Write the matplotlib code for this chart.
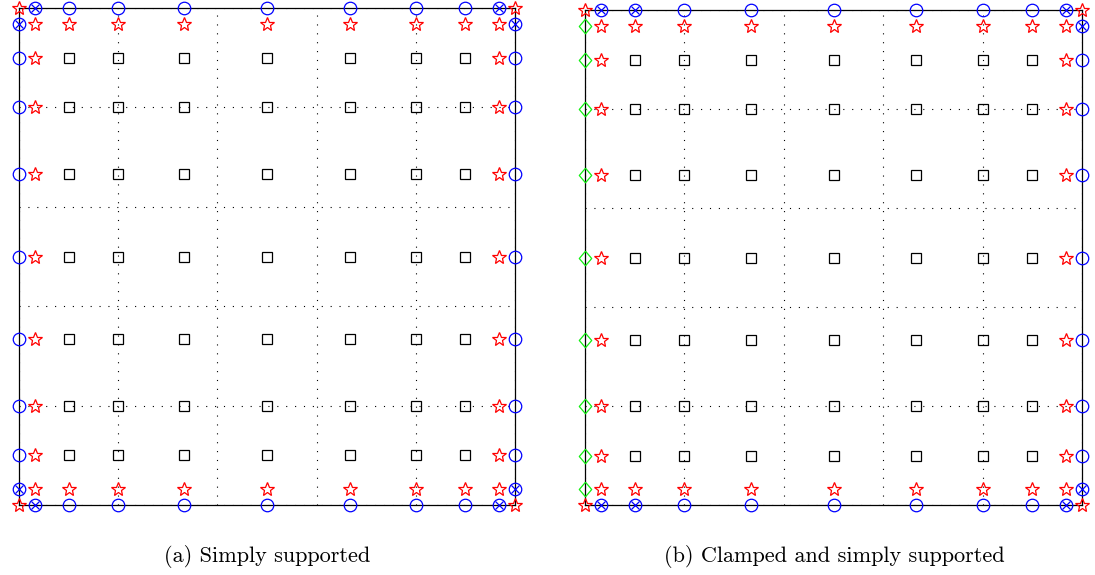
import matplotlib
matplotlib.use('Agg')
from matplotlib import pyplot as plt

# node coordinates along each side of the plate (same in x and y)
nodes = [0.0, 0.033, 0.1, 0.2, 0.333, 0.5, 0.667, 0.8, 0.9, 0.967, 1.0]
# element boundaries (dotted mesh)
mesh = [0.0, 0.2, 0.4, 0.6, 0.8, 1.0]

# marker type per node, rows from top (y=1) to bottom (y=0)
# * star, X crossed circle, O circle, s square, D diamond
grid_a = [
	'*XOOOOOOOX*',
	'X*********X',
	'O*sssssss*O',
	'O*sssssss*O',
	'O*sssssss*O',
	'O*sssssss*O',
	'O*sssssss*O',
	'O*sssssss*O',
	'O*sssssss*O',
	'X*********X',
	'*XOOOOOOOX*',
]
grid_b = [
	'*XXOOOOOOX*',
	'D*********X',
	'D*sssssss*O',
	'D*sssssss*O',
	'D*sssssss*O',
	'D*sssssss*O',
	'D*sssssss*O',
	'D*sssssss*O',
	'D*sssssss*O',
	'D*********X',
	'*XXOOOOOOX*',
]
captions = ['(a) Simply supported', '(b) Clamped and simply supported']

diamond = [(0, 1), (0.85, 0), (0, -1), (-0.85, 0), (0, 1)]

styles = {
	'*': dict(marker='*', ms=10, mec='red'),
	'O': dict(marker='o', ms=9, mec='blue'),
	'X': dict(marker='o', ms=9, mec='blue'),
	's': dict(marker='s', ms=7, mec='black'),
	'D': dict(marker=diamond, ms=10.5, mec='#11ee11'),
}


def draw(ax, grid):
	for v in mesh:
		ax.plot([v, v], [0, 1], color='black', lw=0.8, ls=(0, (1, 7)))
		ax.plot([0, 1], [v, v], color='black', lw=0.8, ls=(0, (1, 7)))
	for r, row in enumerate(grid):
		y = nodes[len(nodes) - 1 - r]
		for c, ch in enumerate(row):
			x = nodes[c]
			ax.plot(x, y, ls='none', mfc='none', mew=0.9, clip_on=False, zorder=3, **styles[ch])
			if ch == 'X':
				ax.plot(x, y, ls='none', marker='x', ms=6, mec='blue', mew=0.9, clip_on=False, zorder=3)
	ax.set_xlim(0, 1)
	ax.set_ylim(0, 1)
	ax.set_xticks([])
	ax.set_yticks([])
	for s in ax.spines.values():
		s.set_linewidth(0.9)
		s.set_color('black')
		s.set_zorder(2)


fig = plt.figure(figsize=(10.95, 5.75), dpi=100)
ax_a = fig.add_axes([19/1095, 70/575, 496/1095, 497/575])
ax_b = fig.add_axes([585/1095, 70/575, 497/1095, 495/575])
draw(ax_a, grid_a)
draw(ax_b, grid_b)

fig.text(267/1095, 1 - 556/575, captions[0], ha='center', va='center', family='cmr10', fontsize=16)
fig.text(834/1095, 1 - 556/575, captions[1], ha='center', va='center', family='cmr10', fontsize=16)

fig.savefig('out.png', dpi=100)
